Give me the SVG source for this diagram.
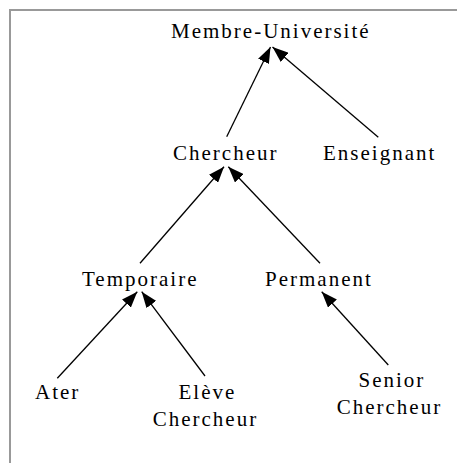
<svg xmlns="http://www.w3.org/2000/svg" width="458" height="463" viewBox="0 0 458 463">
  <style>
    .frame { stroke: #999999; stroke-width: 2; fill: none; }
    .label { font-family: "Liberation Serif", "Times New Roman", serif; font-size: 21px; letter-spacing: 2px; fill: #000000; }
    .edge { stroke: #000000; stroke-width: 1.3; fill: none; marker-end: url(#head); }
  </style>
  <defs>
    <marker id="head" markerUnits="userSpaceOnUse" markerWidth="16" markerHeight="12" refX="16" refY="6" orient="auto">
      <path d="M0,0 L16,6 L0,12 z" fill="#000000"/>
    </marker>
  </defs>
  <rect width="458" height="463" fill="#ffffff"/>
  <!-- page frame: top and left rules -->
  <path class="frame" d="M9,10 H457 M10,9 V463"/>

  <!-- inheritance links, arrow points to the parent class -->
  <g id="connectors">
    <line class="edge" x1="226.7" y1="136.7" x2="270.5" y2="47"/>
    <line class="edge" x1="378.3" y1="137.3" x2="272.5" y2="47"/>
    <line class="edge" x1="140" y1="263.3" x2="224" y2="166.7"/>
    <line class="edge" x1="320" y1="263.3" x2="228.3" y2="166.7"/>
    <line class="edge" x1="57.3" y1="378.3" x2="137.3" y2="291.7"/>
    <line class="edge" x1="205" y1="376" x2="141.7" y2="291.7"/>
    <line class="edge" x1="388.3" y1="365" x2="321.7" y2="291.7"/>
  </g>

  <g id="membre-universite"><text class="label" x="171" y="38">Membre-Université</text></g>
  <g id="chercheur"><text class="label" x="173" y="160">Chercheur</text></g>
  <g id="enseignant"><text class="label" x="323" y="160">Enseignant</text></g>
  <g id="temporaire"><text class="label" x="82" y="285.5">Temporaire</text></g>
  <g id="permanent"><text class="label" x="265" y="285.5">Permanent</text></g>
  <g id="ater"><text class="label" x="35" y="398.5">Ater</text></g>
  <g id="eleve-chercheur">
    <text class="label" x="178.5" y="398.5">Elève</text>
    <text class="label" x="152.7" y="425.5">Chercheur</text>
  </g>
  <g id="senior-chercheur">
    <text class="label" x="358.5" y="387">Senior</text>
    <text class="label" x="336.7" y="414">Chercheur</text>
  </g>
</svg>
